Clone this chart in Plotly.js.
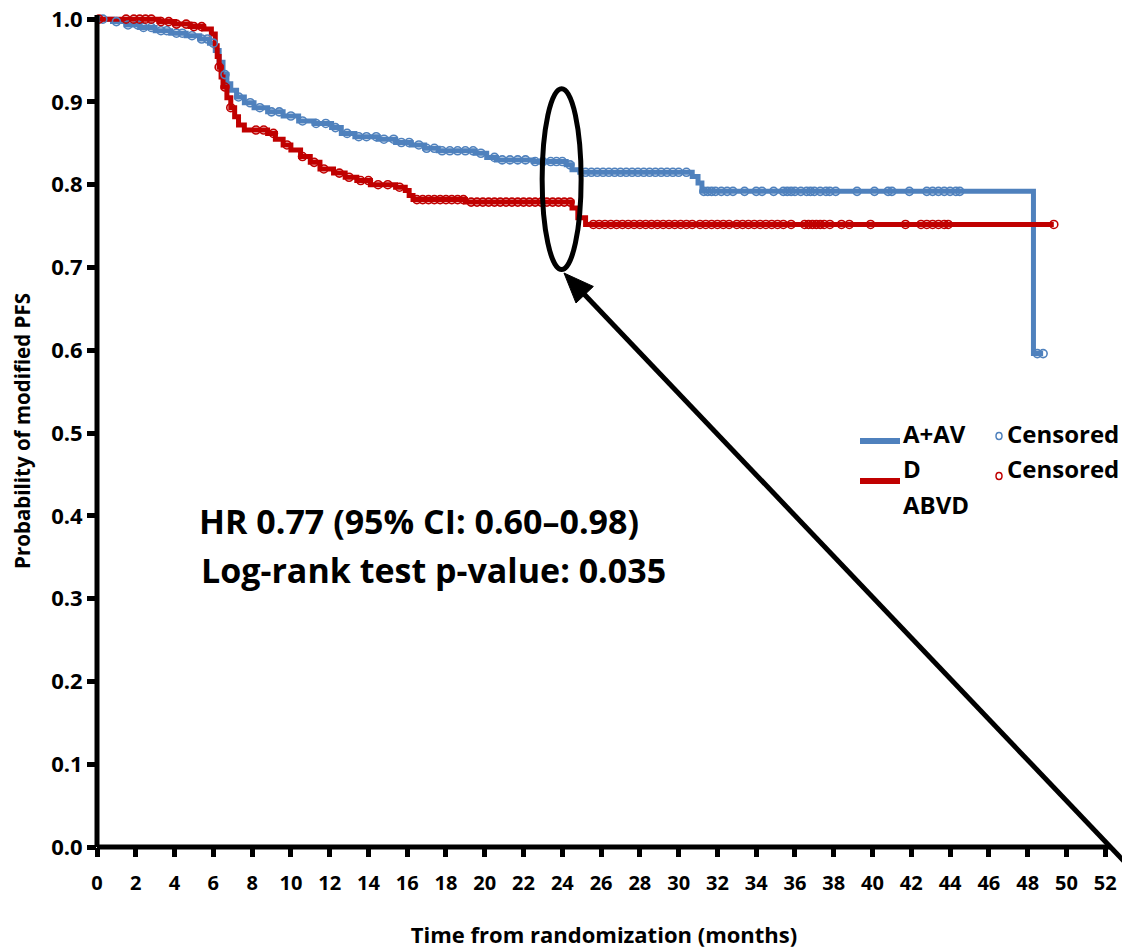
<!DOCTYPE html>
<html>
<head>
<meta charset="utf-8">
<script src="https://cdn.plot.ly/plotly-3.0.1.min.js"></script>
<style>html,body{margin:0;padding:0;background:#fff;}#chart{width:1122px;height:950px;}</style>
</head>
<body>
<div id="chart"></div>
<script>
// ---- Data ----
const groupNames = ["A+AV", "ABVD"];

// A+AV step curve: event times (months) and survival after each step
const aavTimes = [0, 0.8, 1.5, 2.2, 3.0, 3.8, 4.6, 5.3, 5.8, 6.1, 6.3, 6.5, 6.7, 6.9, 7.2, 7.6, 8.1, 8.8, 9.6, 10.4, 11.2, 12.1, 12.6, 13.3, 14.5, 15.4, 16.2, 16.9, 17.6, 19.5, 20.1, 20.6, 22.5, 24.2, 24.5, 24.9, 30.7, 31.0, 31.2, 48.3];
const aavSurv  = [1.0, 0.997, 0.993, 0.990, 0.986, 0.983, 0.980, 0.976, 0.971, 0.962, 0.948, 0.933, 0.922, 0.914, 0.906, 0.899, 0.893, 0.888, 0.883, 0.877, 0.874, 0.869, 0.862, 0.858, 0.855, 0.851, 0.848, 0.844, 0.841, 0.838, 0.833, 0.830, 0.828, 0.824, 0.818, 0.815, 0.810, 0.802, 0.792, 0.596];
const aavCensored = [0.3, 1.0, 1.6, 2.1, 2.4, 2.8, 3.3, 3.6, 4.1, 4.4, 4.9, 5.4, 5.7, 6.0, 6.6, 7.3, 7.9, 8.4, 9.0, 9.4, 10.0, 10.6, 11.3, 11.8, 12.3, 12.9, 13.5, 13.9, 14.4, 14.8, 15.3, 15.7, 16.1, 16.6, 17.0, 17.4, 17.8, 18.2, 18.6, 19.0, 19.4, 19.8, 20.5, 20.9, 21.3, 21.7, 22.1, 22.6, 23.0, 23.4, 23.7, 24.0, 24.4, 25.2, 25.5, 25.8, 26.1, 26.4, 26.7, 27.0, 27.3, 27.6, 27.9, 28.2, 28.5, 28.8, 29.1, 29.4, 29.7, 30.0, 30.4, 31.3, 31.5, 31.7, 31.9, 32.2, 32.5, 32.8, 33.4, 34.0, 34.3, 34.9, 35.4, 35.6, 35.8, 36.0, 36.3, 36.6, 36.8, 37.0, 37.3, 37.6, 37.8, 38.1, 39.2, 40.1, 40.8, 41.0, 41.9, 42.8, 43.1, 43.4, 43.7, 44.0, 44.3, 44.5, 48.5, 48.8];

// ABVD step curve
const abvdTimes = [0, 3.2, 4.0, 4.8, 5.5, 5.9, 6.1, 6.2, 6.3, 6.4, 6.5, 6.7, 6.9, 7.1, 7.3, 7.6, 8.8, 9.2, 9.6, 10.0, 10.5, 11.0, 11.5, 12.2, 12.8, 13.4, 14.1, 15.4, 15.9, 16.1, 16.3, 19.0, 24.5, 24.8, 25.2];
const abvdSurv  = [1.0, 0.997, 0.994, 0.991, 0.988, 0.982, 0.968, 0.955, 0.942, 0.930, 0.918, 0.905, 0.893, 0.882, 0.872, 0.866, 0.862, 0.855, 0.848, 0.842, 0.834, 0.827, 0.819, 0.814, 0.809, 0.805, 0.800, 0.797, 0.793, 0.787, 0.782, 0.779, 0.772, 0.760, 0.752];
const abvdCensored = [0.1, 1.5, 1.9, 2.2, 2.5, 2.8, 3.3, 3.7, 4.1, 4.6, 5.0, 5.4, 6.3, 6.6, 6.9, 8.2, 8.6, 9.1, 9.8, 10.6, 11.2, 11.7, 12.5, 13.0, 13.6, 14.0, 14.5, 15.0, 15.6, 16.5, 16.8, 17.1, 17.4, 17.7, 18.0, 18.3, 18.6, 18.9, 19.3, 19.6, 19.9, 20.2, 20.5, 20.8, 21.1, 21.4, 21.7, 22.0, 22.3, 22.6, 22.9, 23.2, 23.5, 23.8, 24.1, 24.4, 25.6, 25.9, 26.2, 26.5, 26.8, 27.1, 27.4, 27.7, 28.0, 28.3, 28.6, 28.9, 29.2, 29.5, 29.8, 30.1, 30.4, 30.7, 31.1, 31.4, 31.7, 32.0, 32.3, 32.6, 33.0, 33.3, 33.6, 33.9, 34.2, 34.5, 34.8, 35.1, 35.4, 35.8, 36.5, 36.7, 36.9, 37.1, 37.3, 37.5, 37.8, 38.4, 38.8, 39.9, 41.7, 42.5, 42.8, 43.1, 43.4, 43.7, 43.9, 49.35];

const xTickVals = [0,2,4,6,8,10,12,14,16,18,20,22,24,26,28,30,32,34,36,38,40,42,44,46,48,50,52];
const yTickVals = [0.0,0.1,0.2,0.3,0.4,0.5,0.6,0.7,0.8,0.9,1.0];
const statLines = ["HR 0.77 (95% CI: 0.60\u20130.98)", "Log-rank test p-value: 0.035"];

// ---- helpers ----
function survAt(times, surv, t) {
  let s = surv[0];
  for (let i = 0; i < times.length; i++) { if (times[i] <= t) s = surv[i]; else break; }
  return s;
}
function extendLine(times, surv, cens) {
  const last = Math.max(times[times.length-1], cens[cens.length-1]);
  return {x: times.concat([last]), y: surv.concat([surv[surv.length-1]])};
}

const BLUE = "#4F81BD", RED = "#C00000";
const FONT = "'Open Sans', 'DejaVu Sans', sans-serif";

const aavLine = extendLine(aavTimes, aavSurv, aavCensored);
const abvdLine = extendLine(abvdTimes, abvdSurv, abvdCensored);

const traces = [
  {x: aavLine.x, y: aavLine.y, type: "scatter", mode: "lines", line: {shape: "hv", color: BLUE, width: 5}, name: groupNames[0], showlegend: false, cliponaxis: false},
  {x: abvdLine.x, y: abvdLine.y, type: "scatter", mode: "lines", line: {shape: "hv", color: RED, width: 5}, name: groupNames[1], showlegend: false, cliponaxis: false},
  {x: aavCensored, y: aavCensored.map(t => survAt(aavTimes, aavSurv, t)), type: "scatter", mode: "markers",
   marker: {symbol: "circle-open", size: 8, color: BLUE, line: {width: 1.6, color: BLUE}}, name: "Censored", showlegend: false, cliponaxis: false},
  {x: abvdCensored, y: abvdCensored.map(t => survAt(abvdTimes, abvdSurv, t)), type: "scatter", mode: "markers",
   marker: {symbol: "circle-open", size: 8, color: RED, line: {width: 1.6, color: RED}}, name: "Censored", showlegend: false, cliponaxis: false}
];

// pixel -> paper helpers (plot area: left 97, right 1111, top 15, bottom 847)
const L = 97, R = 11, T = 15, B = 103, W = 1122 - L - R, H = 950 - T - B;
const px = v => (v - L) / W;
const py = v => (950 - B - v) / H;

// arrow geometry (pixels): tip near the ellipse, tail off the lower-right corner
const tip = [564, 273], tail = [1140, 878];
const len = Math.hypot(tail[0]-tip[0], tail[1]-tip[1]);
const d = [(tail[0]-tip[0])/len, (tail[1]-tip[1])/len];
const nrm = [-d[1], d[0]];
const headLen = 30, headHalf = 12;
const baseC = [tip[0] + headLen*d[0], tip[1] + headLen*d[1]];
const c1 = [baseC[0] + headHalf*nrm[0], baseC[1] + headHalf*nrm[1]];
const c2 = [baseC[0] - headHalf*nrm[0], baseC[1] - headHalf*nrm[1]];
const P = p => px(p[0]).toFixed(5) + "," + py(p[1]).toFixed(5);

const shapes = [
  // axis lines
  {type: "line", xref: "paper", yref: "paper", x0: 0, x1: 0, y0: 0, y1: 1, line: {color: "black", width: 5}, layer: "above"},
  {type: "line", xref: "paper", yref: "paper", x0: 0, x1: 1, y0: 0, y1: 0, line: {color: "black", width: 5}, layer: "above"},
  // highlight ellipse around month 24
  {type: "circle", xref: "x", yref: "y", x0: 22.96, x1: 24.97, y0: 0.6975, y1: 0.916, line: {color: "black", width: 5}, layer: "above"},
  // arrow shaft and head
  {type: "line", xref: "paper", yref: "paper", x0: px(baseC[0]-2*d[0]), y0: py(baseC[1]-2*d[1]), x1: px(tail[0]), y1: py(tail[1]), line: {color: "black", width: 5}, layer: "above"},
  {type: "path", xref: "paper", yref: "paper", path: "M" + P(tip) + " L" + P(c1) + " L" + P(c2) + " Z", fillcolor: "black", line: {color: "black", width: 1}, layer: "above"},
  // legend line samples
  {type: "line", xref: "paper", yref: "paper", x0: px(860), x1: px(900), y0: py(441), y1: py(441), line: {color: BLUE, width: 6}},
  {type: "line", xref: "paper", yref: "paper", x0: px(860), x1: px(900), y0: py(481), y1: py(481), line: {color: RED, width: 6}},
  // legend censor symbols
  {type: "circle", xref: "paper", yref: "paper", x0: px(996), x1: px(1002), y0: py(439.5), y1: py(432.5), line: {color: BLUE, width: 1.5}},
  {type: "circle", xref: "paper", yref: "paper", x0: px(996), x1: px(1002), y0: py(479.5), y1: py(472.5), line: {color: RED, width: 1.5}}
];

const legFont = {family: FONT, size: 24, color: "black", weight: "bold"};
const statFont = {family: FONT, size: 34, color: "black", weight: "bold"};
const annotations = [
  {xref: "paper", yref: "paper", x: px(901), y: py(434), xanchor: "left", yanchor: "middle", text: groupNames[0], showarrow: false, font: legFont},
  {xref: "paper", yref: "paper", x: px(901), y: py(469), xanchor: "left", yanchor: "middle", text: "D", showarrow: false, font: legFont},
  {xref: "paper", yref: "paper", x: px(901), y: py(504), xanchor: "left", yanchor: "middle", text: groupNames[1], showarrow: false, font: legFont},
  {xref: "paper", yref: "paper", x: px(1005), y: py(434), xanchor: "left", yanchor: "middle", text: "Censored", showarrow: false, font: legFont},
  {xref: "paper", yref: "paper", x: px(1005), y: py(469), xanchor: "left", yanchor: "middle", text: "Censored", showarrow: false, font: legFont},
  {xref: "paper", yref: "paper", x: px(197), y: py(521), xanchor: "left", yanchor: "middle", text: statLines[0], showarrow: false, font: statFont},
  {xref: "paper", yref: "paper", x: px(199), y: py(570), xanchor: "left", yanchor: "middle", text: statLines[1], showarrow: false, font: statFont}
];

const layout = {
  width: 1122, height: 950,
  margin: {l: L, r: R, t: T, b: B, pad: 0},
  paper_bgcolor: "white", plot_bgcolor: "white",
  showlegend: false,
  font: {family: FONT, color: "black"},
  xaxis: {
    range: [0, 52.3], tickvals: xTickVals, ticktext: xTickVals.map(String),
    ticks: "outside", ticklen: 9, tickwidth: 5, tickcolor: "black",
    ticklabelstandoff: 9,
    showgrid: false, zeroline: false, showline: false,
    tickfont: {family: FONT, size: 20, color: "black", weight: "bold"},
    title: {text: "Time from randomization (months)", font: {family: FONT, size: 22, color: "black", weight: "bold"}, standoff: 32}
  },
  yaxis: {
    range: [0, 1.005], tickvals: yTickVals, ticktext: yTickVals.map(v => v.toFixed(1)),
    ticks: "outside", ticklen: 9, tickwidth: 5, tickcolor: "black",
    showgrid: false, zeroline: false, showline: false,
    tickfont: {family: FONT, size: 22, color: "black", weight: "bold"},
    title: {text: "Probability of modified PFS", font: {family: FONT, size: 20.5, color: "black", weight: "bold"}, standoff: 14}
  },
  shapes: shapes,
  annotations: annotations
};

Plotly.newPlot("chart", traces, layout, {displayModeBar: false, staticPlot: true});
</script>
</body>
</html>
